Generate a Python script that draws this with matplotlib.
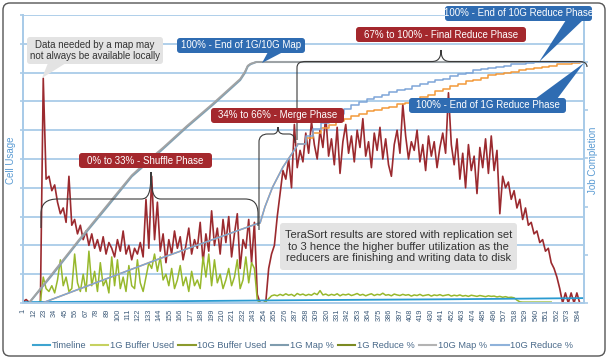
import matplotlib
matplotlib.use("Agg")
import matplotlib.pyplot as plt
from matplotlib.patches import FancyBboxPatch, Polygon, PathPatch
from matplotlib.path import Path
from matplotlib.lines import Line2D

plt.rcParams['font.family'] = ['Liberation Sans', 'DejaVu Sans']

# ---------------- data ----------------
n_points = 590
tick_positions = list(range(1, 585, 11))
tick_labels = [str(t) for t in tick_positions]

# Cell usage (left axis, 0-100), sampled every 3 samples
buf10_values = [
    0.5, 1.2, 0.3, 0, 0, 0, 0, 78, 43, 44,
    39, 41, 35, 31, 33, 28, 44, 27, 29, 24,
    27, 22, 25, 20, 24, 19, 22, 18, 23, 17,
    21, 19, 16, 22, 18, 25, 17, 20, 15, 19,
    17, 21, 16, 36, 19, 44, 22, 35, 18, 24,
    14, 22, 17, 25, 19, 23, 15, 20, 26, 17,
    22, 19, 28, 14, 24, 18, 32, 20, 26, 17,
    29, 21, 30, 16, 24, 31, 12, 22, 19, 29,
    14, 28, 3, 0, 0, 0.5, 12, 17, 20, 30,
    38, 46, 43, 50, 40, 62, 47, 53, 49, 59,
    52, 63, 55, 50, 60, 54, 65, 51, 57, 48,
    61, 45, 56, 62, 52, 58, 49, 60, 54, 64,
    51, 56, 47, 59, 53, 61, 50, 57, 48, 44,
    55, 60, 52, 69, 58, 50, 56, 53, 60, 49,
    55, 46, 58, 51, 56, 47, 54, 59, 52, 73,
    55, 48, 57, 43, 52, 40, 55, 46, 51, 38,
    54, 47, 57, 45, 58, 46, 53, 31, 44, 40,
    42, 36, 39, 33, 36, 29, 33, 27, 28, 24,
    25, 21, 22, 18, 19, 14, 12, 9, 5, 0,
    3.5, 0, 3.5, 0, 3.5, 0, 0,
]
buf10_x = list(range(1, 590, 3))

buf1_values = [
    0, 0, 0, 0, 0, 0, 0.5, 9, 5, 4,
    6, 3.5, 8, 15, 6, 9, 4, 5, 17, 7,
    4, 10, 4, 18, 6, 11, 4, 14, 6, 8,
    3.5, 16, 6, 15, 5, 9, 4, 13, 6, 5,
    15, 7, 4, 9, 14, 12, 17, 11, 16, 8,
    10, 6, 12, 5, 8, 13, 6, 9, 4, 11,
    6, 8, 5, 16, 9, 17, 6, 15, 7, 10,
    5, 8, 12, 6, 9, 15, 5, 8, 16, 7,
    14, 12, 1, 0, 0, 0.5,
    1.5, 2.5, 2.8, 2.5, 3.0, 2.6, 3.2, 2.7, 3.0, 2.4,
    3.3, 2.8, 3.1, 2.6, 3.0, 2.7, 3.4, 2.9, 4.3, 2.8,
    3.1, 2.6, 3.0, 2.7, 3.2, 2.5, 3.0, 2.8, 3.1, 2.6,
    2.9, 3.3, 2.7, 3.0, 2.5, 2.9, 3.2, 2.6, 3.0, 2.8,
    3.4, 2.7, 2.9, 2.5, 3.1, 2.8, 2.6, 3.0, 2.7, 2.9,
    2.4, 2.8, 2.6, 3.0, 2.5, 2.7, 2.9, 2.4, 2.8, 2.6,
    2.9, 2.5, 2.7, 2.9, 2.4, 2.7, 2.5, 2.8, 2.4, 2.6,
    2.3, 2.7, 2.5, 2.3, 2.6, 2.4, 2.2, 2.5, 2.3, 2.4,
    2.1, 2.3, 2.0, 2.2, 1.9, 2.0, 1.8, 1.0, 0.4, 0.3,
    0.3, 0.3, 0.3, 0.3, 0.3, 0.3, 0.3, 0.3, 0.3, 0.3,
]
buf1_x = list(range(1, 557, 3))

timeline_x = [1, 150, 300, 450, 590]
timeline_values = [0.3, 0.6, 1.0, 1.3, 1.7]

# Job completion (right axis, %)
map_x = [1, 7, 30, 60, 90, 115, 126, 148, 173, 201, 222, 229, 234, 237, 240, 246, 590]
map10_pct = [0, 0, 11.5, 26.5, 41, 53, 57, 64.5, 73.5, 83, 90.5, 93, 96, 98.5, 99.3, 100, 100]
map1_pct = [0, 0, 11, 26, 40.3, 52.5, 56.3, 64, 73, 82.5, 90, 92.5, 95.5, 98.2, 99.1, 100, 100]

reduce_x = [1, 21, 145, 246, 250, 255, 263, 274, 286, 290]
reduce_pct = [0, 0, 18.5, 32.8, 33.2, 39.8, 48, 56.4, 63.5, 66]

red10_step_x = [290, 298, 306, 314, 322, 330, 338, 346, 354, 362, 370, 378, 386, 394,
                402, 410, 418, 426, 434, 442, 450, 458, 466, 474, 482, 490, 498, 506,
                514, 522, 530, 538, 590]
red10_step_pct = [66, 69.5, 72, 74.5, 76.5, 78.5, 80.5, 82, 83.5, 84.5, 85.5, 86.5, 87.5, 88.5,
                  89, 90, 91, 91.5, 92.5, 93, 94, 95, 95.5, 96.5, 97, 97.5, 98, 98.5,
                  99, 99.3, 99.6, 100, 100]

red1_step_x = [290, 298, 306, 314, 322, 330, 338, 346, 354, 362, 370, 378, 386, 394,
               402, 410, 418, 426, 434, 442, 450, 458, 466, 474, 482, 490, 498, 506,
               514, 522, 530, 538, 546, 554, 562, 570, 578, 586, 590]
red1_step_pct = [66, 68.5, 70.5, 72.5, 74, 75.5, 76.5, 77.5, 78.5, 79.5, 80, 81, 81.5, 82.5,
                 83, 84.5, 85.5, 86.5, 88, 89, 90, 91, 92, 92.5, 93.5, 94.5, 95, 95.5,
                 96, 96.5, 97, 97.5, 98, 98.5, 99, 99.3, 99.6, 100, 100]

legend_names = ["Timeline", "1G Buffer Used", "10G Buffer Used", "1G Map %",
                "1G Reduce %", "10G Map %", "10G Reduce %"]
legend_colors = ["#3ea4d0", "#c6d160", "#8b9a2c", "#7f9cae", "#7b8a22", "#b3b3b3", "#8fb2da"]

# ---------------- figure ----------------
W, H = 608, 361
fig = plt.figure(figsize=(W / 100, H / 100), dpi=100)
T = fig.dpi_scale_trans


def P(x, y):
    return (x / 100.0, (H - y) / 100.0)


ax = fig.add_axes([22.8 / W, 1 - 303 / H, (584 - 22.8) / W, (303 - 15) / H])
ax2 = ax.twinx()

grid_c = "#a9cbe8"
ax.set_xlim(0.5, n_points + 0.5)
ax.set_ylim(0, 100)
ax2.set_ylim(0, 119.5)
ax.set_yticks(range(0, 101, 10))
ax.set_yticklabels([])
ax2.set_yticks(range(0, 120, 20))
ax2.set_yticklabels([])
ax.grid(axis="y", color=grid_c, lw=1.3)
ax.set_axisbelow(True)
ax.set_xticks(tick_positions)
ax.set_xticklabels(tick_labels, rotation=90, fontsize=5.3, color="#3d5a78")
ax.tick_params(axis="x", length=0, pad=4)
ax.tick_params(axis="y", length=2, color=grid_c, width=1.2)
ax2.tick_params(axis="y", length=3, color=grid_c, width=1.2)
for a in (ax, ax2):
    a.spines["top"].set_visible(False)
    for s in ("left", "right", "bottom"):
        a.spines[s].set_color(grid_c)
        a.spines[s].set_linewidth(1.3)

ax.plot(timeline_x, timeline_values, color="#2a9bd1", lw=1.3, zorder=3)
ax.plot(buf10_x, buf10_values, color="#9b2a2f", lw=1.2, zorder=2)
ax.plot(buf1_x, buf1_values, color="#97b82c", lw=1.1, zorder=2.5)

ax2.plot(map_x, map1_pct, color="#7fa0b4", lw=1.5)
ax2.plot(map_x, map10_pct, color="#a3a3a3", lw=1.2)
ax2.plot(reduce_x, reduce_pct, color="#f39a3a", lw=1.1)
ax2.plot(reduce_x, reduce_pct, color="#7ea6d8", lw=1.1)
ax2.plot(red1_step_x, red1_step_pct, color="#f39a3a", lw=1.1, drawstyle="steps-post")
ax2.plot(red10_step_x, red10_step_pct, color="#7ea6d8", lw=1.1, drawstyle="steps-post")

# axis titles
fig.text(11.5 / W, 1 - 160 / H, "Cell Usage", rotation=90, ha="center", va="center",
         fontsize=7, color="#5a9bd3")
fig.text(593.5 / W, 1 - 160 / H, "Job Completion", rotation=90, ha="center", va="center",
         fontsize=7, color="#5a9bd3")

# legend
handles = [Line2D([0], [0], color=c, lw=1.5) for c in legend_colors]
fig.legend(handles, legend_names, loc="center", bbox_to_anchor=(303 / W, 1 - 346 / H),
           ncol=7, frameon=False, fontsize=6.7, handlelength=1.9, handletextpad=0.15,
           columnspacing=0.45, labelcolor="#4a6a8a", borderaxespad=0)


# annotation helpers (pixel coordinates from top-left)
def box(x0, y0, x1, y1, fc, lines, tc, fs=7.0):
    p = FancyBboxPatch(P(x0, y1), (x1 - x0) / 100, (y1 - y0) / 100,
                       boxstyle="round,pad=0,rounding_size=0.03", transform=T,
                       fc=fc, ec="none", zorder=5)
    fig.add_artist(p)
    fig.text((x0 + x1) / 2 / 100, (H - (y0 + y1) / 2) / 100, lines, transform=T,
             ha="center", va="center", color=tc, fontsize=fs, zorder=6,
             linespacing=1.2)


def pointer(pts, fc):
    fig.add_artist(Polygon([P(*q) for q in pts], closed=True, transform=T,
                           fc=fc, ec="none", zorder=5))


def brace(segs):
    verts, codes = [], []
    first = True
    for seg in segs:
        if first:
            verts.append(P(*seg[1])); codes.append(Path.MOVETO)
            first = False
            continue
        if seg[0] == "L":
            verts.append(P(*seg[1])); codes.append(Path.LINETO)
        else:
            for q in seg[1:]:
                verts.append(P(*q)); codes.append(Path.CURVE4)
    fig.add_artist(PathPatch(Path(verts, codes), transform=T, fc="none",
                             ec="#3a3a3a", lw=0.8, zorder=4))


RED = "#a4282d"
BLUE = "#2f6cb2"
GRAY = "#e3e3e3"

# braces
brace([("M", (41, 228)), ("L", (41, 214)), ("C", (41, 203), (47, 199), (58, 199)),
       ("L", (141, 199)), ("C", (148, 199), (151, 194), (151, 172)),
       ("C", (151, 194), (154, 199), (161, 199)), ("L", (245, 199)),
       ("C", (254, 199), (258, 204), (258, 214)), ("L", (258, 226))])
brace([("M", (259, 230)), ("L", (259, 142)), ("C", (259, 137), (262, 134), (268, 134)),
       ("L", (273, 134)), ("C", (276, 134), (278, 132), (278, 127)),
       ("C", (278, 132), (280, 134), (284, 134)), ("L", (289, 134)),
       ("C", (293, 134), (295, 137), (295, 143))])
brace([("M", (297, 140)), ("L", (297, 68)), ("C", (297, 63), (300, 61.5), (306, 61.5)),
       ("L", (432, 61.5)), ("C", (438, 61.5), (441, 58), (441, 50)),
       ("C", (441, 58), (444, 61.5), (450, 61.5)), ("L", (579, 61.5)),
       ("C", (584, 61.5), (587, 63), (587, 67))])

# callouts
pointer([(48, 63), (66, 63), (42, 78)], GRAY)
box(27, 37, 163, 64, GRAY, "Data needed by a map may\nnot always be available locally", "#333333")

pointer([(268, 52), (283, 52), (262, 63)], BLUE)
box(177, 38, 305, 53, BLUE, "100% - End of 1G/10G Map", "white")

box(356, 27, 526, 42, RED, "67% to 100% - Final Reduce Phase", "white")

pointer([(566, 20), (583, 20), (539, 62)], BLUE)
box(445, 6, 592, 21, BLUE, "100% - End of 10G Reduce Phase", "white")

pointer([(535, 99), (557, 99), (584, 63)], BLUE)
box(409, 98, 566, 113, BLUE, "100% - End of 1G Reduce Phase", "white")

box(211, 108, 344, 123, RED, "34% to 66% - Merge Phase", "white")
box(79, 153, 212, 168, RED, "0% to 33% - Shuffle Phase", "white")

box(280, 223, 517, 270, GRAY,
    "TeraSort results are stored with replication set\nto 3 hence the higher buffer utilization as the\nreducers are finishing and writing data to disk",
    "#333333", fs=8.0)

# outer frame
fig.add_artist(FancyBboxPatch(P(3, 356), 602 / 100, 353 / 100,
                              boxstyle="round,pad=0,rounding_size=0.07", transform=T,
                              fc="none", ec="#555555", lw=1.0, zorder=7))

fig.savefig("out.png", dpi=100)
